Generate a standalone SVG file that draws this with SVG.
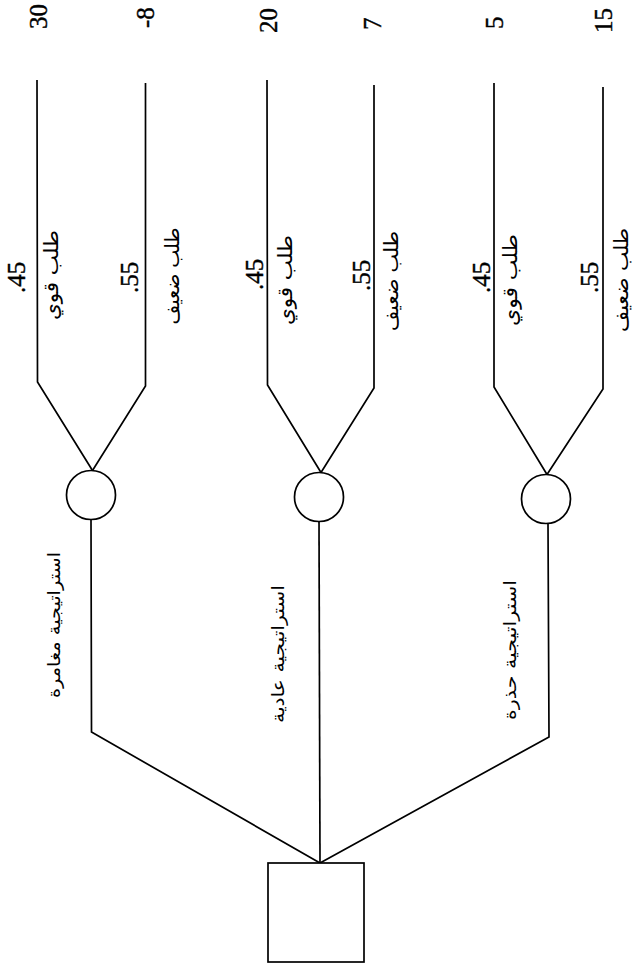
<svg xmlns="http://www.w3.org/2000/svg" width="637" height="971" viewBox="0 0 637 971">
<style>
.ln{fill:none;stroke:#000;stroke-width:1.7;stroke-linejoin:miter}
.nd{fill:#fff;stroke:#000;stroke-width:1.7}
.num{font-family:"Liberation Serif","Times New Roman",serif;font-size:25px;fill:#000;stroke:#000;stroke-width:0.4}
.ar{font-family:"DejaVu Sans",sans-serif;font-size:20px;fill:#000}
.ars{font-family:"DejaVu Sans",sans-serif;font-size:17px;fill:#000}
</style>
<rect width="637" height="971" fill="#fff"/>
<g id="connectors">
<polyline class="ln" points="320,863 91.5,732 91,519.5"/>
<polyline class="ln" points="320,863 319,521"/>
<polyline class="ln" points="320,863 549,737 548,523.5"/>
<polyline class="ln" points="92.5,470.5 37.5,382 37,80"/>
<polyline class="ln" points="92.5,470.5 145.5,386 145.5,83"/>
<polyline class="ln" points="321,472.5 267.5,385 267,80"/>
<polyline class="ln" points="321,472.5 374,388 374,85"/>
<polyline class="ln" points="547,474.5 494,387 494,83"/>
<polyline class="ln" points="547,474.5 603,389 603,87"/>
</g>
<g id="decision">
<rect class="nd" x="268" y="863" width="96" height="99"/>
</g>
<g id="chance-risky">
<circle class="nd" cx="91" cy="495" r="24.5"/>
</g>
<g id="chance-normal">
<circle class="nd" cx="319" cy="497" r="24.5"/>
</g>
<g id="chance-cautious">
<circle class="nd" cx="546" cy="499" r="24.5"/>
</g>
<g id="strategy-labels">
<text class="ars" transform="translate(60,625) rotate(-90)" text-anchor="middle" textLength="146" lengthAdjust="spacingAndGlyphs">استراتيجية مغامرة</text>
<text class="ars" transform="translate(284,654) rotate(-90)" text-anchor="middle" textLength="138" lengthAdjust="spacingAndGlyphs">استراتيجية عادية</text>
<text class="ars" transform="translate(516,650) rotate(-90)" text-anchor="middle" textLength="140" lengthAdjust="spacingAndGlyphs">استراتيجية حذرة</text>
</g>
<g id="demand-labels">
<text class="ar" transform="translate(58,275) rotate(-90)" text-anchor="middle" textLength="90" lengthAdjust="spacingAndGlyphs">طلب قوي</text>
<text class="ar" transform="translate(179,276) rotate(-90)" text-anchor="middle" textLength="97" lengthAdjust="spacingAndGlyphs">طلب ضعيف</text>
<text class="ar" transform="translate(292,280) rotate(-90)" text-anchor="middle" textLength="90" lengthAdjust="spacingAndGlyphs">طلب قوي</text>
<text class="ar" transform="translate(398,281) rotate(-90)" text-anchor="middle" textLength="100" lengthAdjust="spacingAndGlyphs">طلب ضعيف</text>
<text class="ar" transform="translate(517,280) rotate(-90)" text-anchor="middle" textLength="92" lengthAdjust="spacingAndGlyphs">طلب قوي</text>
<text class="ar" transform="translate(628,280) rotate(-90)" text-anchor="middle" textLength="104" lengthAdjust="spacingAndGlyphs">طلب ضعيف</text>
</g>
<g id="probabilities">
<text class="num" transform="translate(25,293) rotate(-90)">.45</text>
<text class="num" transform="translate(138,293) rotate(-90)">.55</text>
<text class="num" transform="translate(263,290) rotate(-90)">.45</text>
<text class="num" transform="translate(370,291) rotate(-90)">.55</text>
<text class="num" transform="translate(490,293) rotate(-90)">.45</text>
<text class="num" transform="translate(598,293) rotate(-90)">.55</text>
</g>
<g id="payoffs">
<text class="num" transform="translate(47,29) rotate(-90)">30</text>
<text class="num" transform="translate(154,28) rotate(-90)">-8</text>
<text class="num" transform="translate(277,33) rotate(-90)">20</text>
<text class="num" transform="translate(381,30) rotate(-90)">7</text>
<text class="num" transform="translate(503,29) rotate(-90)">5</text>
<text class="num" transform="translate(612,33) rotate(-90)">15</text>
</g>
</svg>
